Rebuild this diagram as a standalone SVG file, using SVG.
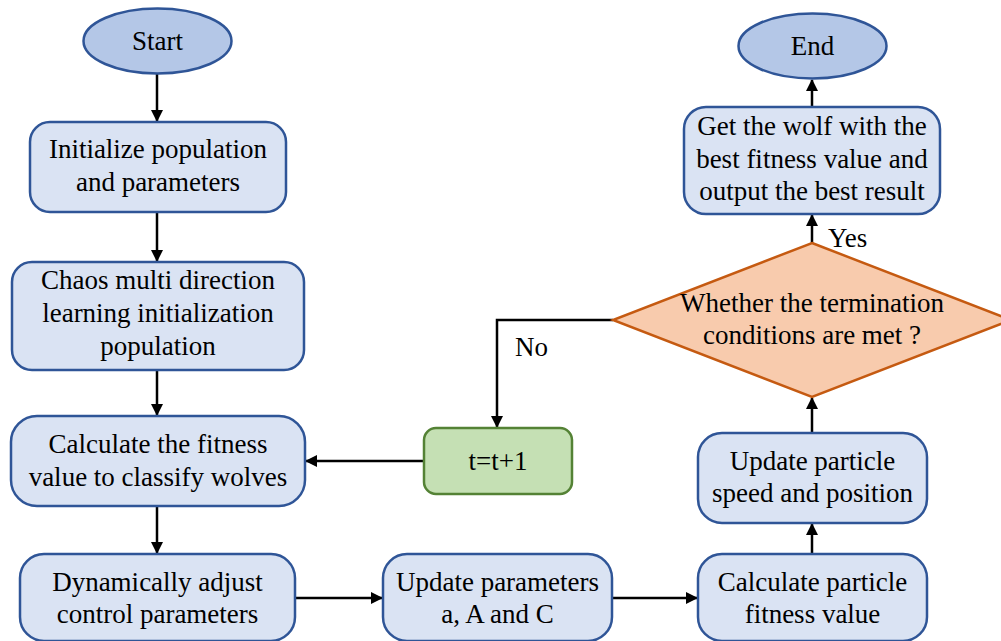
<svg xmlns="http://www.w3.org/2000/svg" width="1001" height="641" viewBox="0 0 1001 641">
<style>
text{font-family:"Liberation Serif","Times New Roman",serif;font-size:27px;fill:#000;text-anchor:middle}
.term{fill:#b4c7e7;stroke:#2f5597;stroke-width:2.5}
.proc{fill:#dae3f3;stroke:#2f5597;stroke-width:2.5}
.inc{fill:#c5e0b4;stroke:#548235;stroke-width:2.5}
.dec{fill:#f8cbad;stroke:#c55a11;stroke-width:2.5}
.edge{fill:none;stroke:#000;stroke-width:2.5}
.lbl{text-anchor:start}
</style>
<defs>
<marker id="arr" viewBox="0 0 12 12" refX="11" refY="6" markerWidth="12" markerHeight="12" markerUnits="userSpaceOnUse" orient="auto">
<path d="M0,0 L12,6 L0,12 Z" fill="#000"/>
</marker>
</defs>
<rect width="1001" height="641" fill="#fff"/>
<g id="edges">
<path class="edge" d="M157,74 V121" marker-end="url(#arr)"/>
<path class="edge" d="M157,212 V261" marker-end="url(#arr)"/>
<path class="edge" d="M157,370 V415" marker-end="url(#arr)"/>
<path class="edge" d="M157,506 V553" marker-end="url(#arr)"/>
<path class="edge" d="M295,598 H382" marker-end="url(#arr)"/>
<path class="edge" d="M612,598 H697" marker-end="url(#arr)"/>
<path class="edge" d="M812,554 V524" marker-end="url(#arr)"/>
<path class="edge" d="M812,433 V398" marker-end="url(#arr)"/>
<path class="edge" d="M812,243 V215" marker-end="url(#arr)"/>
<path class="edge" d="M812,107 V80" marker-end="url(#arr)"/>
<path class="edge" d="M613,320 H497 V427" marker-end="url(#arr)"/>
<path class="edge" d="M424,461 H306" marker-end="url(#arr)"/>
<text class="lbl" x="828" y="247">Yes</text>
<text class="lbl" x="515" y="356">No</text>
</g>
<g id="start">
<ellipse class="term" cx="157.5" cy="41" rx="74" ry="32.5"/>
<text x="157.5" y="50">Start</text>
</g>
<g id="init">
<rect class="proc" x="30" y="122" width="256" height="90" rx="20"/>
<text x="158" y="158">Initialize population</text>
<text x="158" y="191">and parameters</text>
</g>
<g id="chaos">
<rect class="proc" x="12" y="262" width="292" height="108" rx="20"/>
<text x="158" y="289">Chaos multi direction</text>
<text x="158" y="322">learning initialization</text>
<text x="158" y="355">population</text>
</g>
<g id="calc">
<rect class="proc" x="11" y="416" width="294" height="90" rx="26"/>
<text x="158" y="453">Calculate the fitness</text>
<text x="158" y="486">value to classify wolves</text>
</g>
<g id="dyn">
<rect class="proc" x="20" y="554" width="275" height="87" rx="24"/>
<text x="157.5" y="591">Dynamically adjust</text>
<text x="157.5" y="623">control parameters</text>
</g>
<g id="upd">
<rect class="proc" x="383" y="554" width="229" height="87" rx="24"/>
<text x="497.5" y="591">Update parameters</text>
<text x="497.5" y="623">a, A and C</text>
</g>
<g id="calcp">
<rect class="proc" x="698" y="554" width="229" height="87" rx="24"/>
<text x="812.5" y="591">Calculate particle</text>
<text x="812.5" y="623">fitness value</text>
</g>
<g id="speed">
<rect class="proc" x="698" y="433" width="229" height="90" rx="24"/>
<text x="812.5" y="470">Update particle</text>
<text x="812.5" y="502">speed and position</text>
</g>
<g id="tinc">
<rect class="inc" x="424" y="428" width="148" height="66" rx="12"/>
<text x="498" y="470">t=t+1</text>
</g>
<g id="decision">
<polygon class="dec" points="812,243 1011,320 812,397 613,320"/>
<text x="812" y="312">Whether the termination</text>
<text x="812" y="344">conditions are met ?</text>
</g>
<g id="best">
<rect class="proc" x="684" y="107" width="256" height="107" rx="22"/>
<text x="812" y="135">Get the wolf with the</text>
<text x="812" y="168">best fitness value and</text>
<text x="812" y="200">output the best result</text>
</g>
<g id="end">
<ellipse class="term" cx="812.5" cy="46" rx="74" ry="32.5"/>
<text x="812.5" y="55">End</text>
</g>
</svg>
